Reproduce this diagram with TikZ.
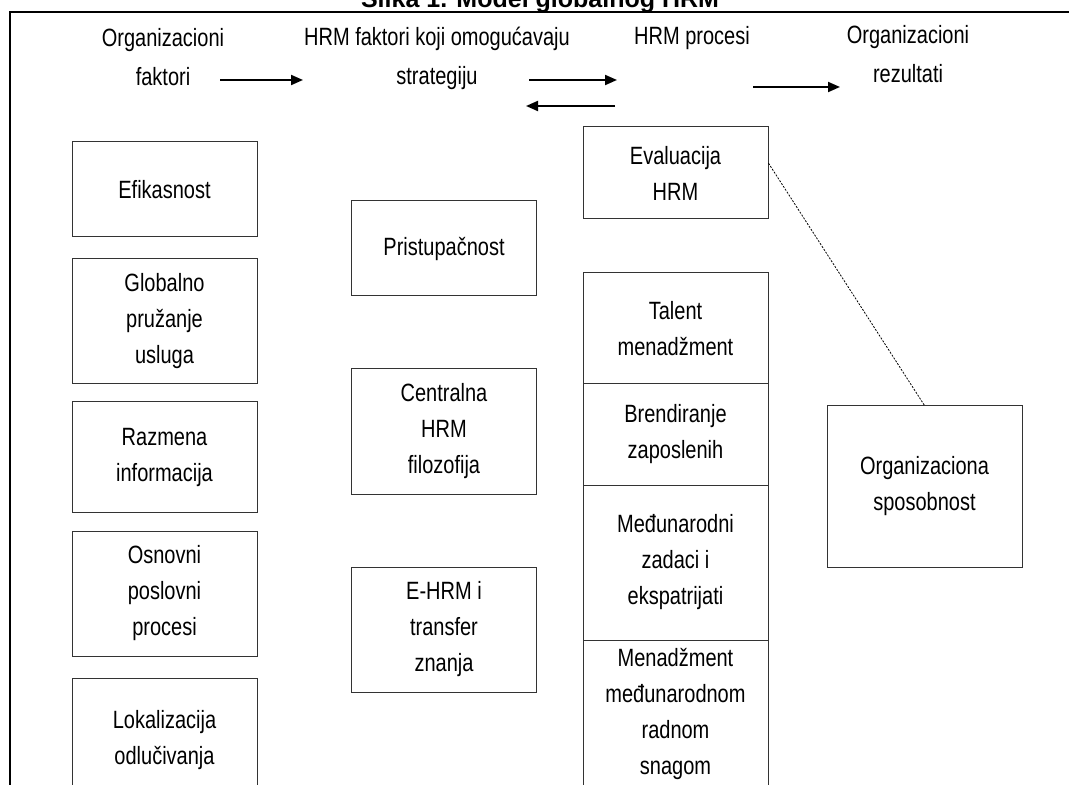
\documentclass[tikz,border=0pt]{standalone}
\usepackage{fontspec}
\setmainfont{Liberation Sans}[FakeStretch=0.8]
\newfontfamily\titlefont{Liberation Sans}
\usetikzlibrary{arrows.meta}

\begin{document}
\begin{tikzpicture}[x=0.5pt,y=-0.5pt,>={Triangle[length=6pt,width=5pt]},
 kutija/.style={draw=black!80,line width=.5pt,align=center,inner sep=0pt,
  minimum width=92.5pt,font=\fontsize{12.5}{18}\selectfont},
 zaglavlje/.style={align=center,anchor=base,font=\fontsize{12.5}{19.5}\selectfont},
 strelica/.style={->,line width=1pt}]
 \useasboundingbox (0,0) rectangle (1069,785);
 % naslov i okvir
 \node[anchor=base,font={\titlefont\bfseries\fontsize{12.5}{15}\selectfont}] (slika) at (540,8) {Slika 1. Model globalnog HRM};
 \draw[line width=1pt] (10,800)--(10,12)--(1080,12);
 % zaglavlja
 \node[zaglavlje] (orgfak) at (163,86) {Organizacioni\\faktori};
 \node[zaglavlje] (hrmfak) at (437,85) {HRM faktori koji omogućavaju\\strategiju};
 \node[zaglavlje] (hrmpro) at (692,45) {HRM procesi};
 \node[zaglavlje] (orgrez) at (908,83) {Organizacioni\\rezultati};
 \coordinate (s1a) at (220,80); \coordinate (s1b) at (303,80);
 \coordinate (s2a) at (529,80); \coordinate (s2b) at (617,80);
 \coordinate (s3a) at (615,106); \coordinate (s3b) at (526,106);
 \coordinate (s4a) at (753,87); \coordinate (s4b) at (840,87);
 \draw[strelica] (s1a)--(s1b);
 \draw[strelica] (s2a)--(s2b);
 \draw[strelica] (s3a)--(s3b);
 \draw[strelica] (s4a)--(s4b);
 % organizacioni faktori
 \node[kutija,minimum height=47.5pt] (efik) at (164.5,189.5) {Efikasnost};
 \node[kutija,minimum height=62.5pt] (glob) at (164.5,321.5) {Globalno\\pružanje\\usluga};
 \node[kutija,minimum height=55pt] (razm) at (164.5,457) {Razmena\\informacija};
 \node[kutija,minimum height=62.5pt] (osn) at (164.5,593.5) {Osnovni\\poslovni\\procesi};
 \node[kutija,minimum height=62pt] (lok) at (164.5,740) {Lokalizacija\\odlučivanja};
 % HRM faktori
 \node[kutija,minimum height=47.5pt] (prist) at (444,248.5) {Pristupačnost};
 \node[kutija,minimum height=62.5pt] (centr) at (444,431.5) {Centralna\\HRM\\filozofija};
 \node[kutija,minimum height=62.5pt] (ehrm) at (444,629.5) {E-HRM i\\transfer\\znanja};
 % HRM procesi
 \node[kutija,minimum height=46pt] (eval) at (675.5,173) {Evaluacija\\HRM};
 \node[kutija,minimum height=55.5pt] (tal) at (675.5,328.5) {Talent\\menadžment};
 \node[kutija,minimum height=50.5pt] (brend) at (675.5,434.5) {Brendiranje\\zaposlenih};
 \node[kutija,minimum height=77.5pt] (medj) at (675.5,562.5) {Međunarodni\\zadaci i\\ekspatrijati};
 \node[kutija,minimum height=74pt] (menad) at (675.5,714) {Menadžment\\međunarodnom\\radnom\\snagom};
 % rezultati
 \node[kutija,minimum width=97.5pt,minimum height=80.5pt] (orgsp) at (924.5,486.5) {Organizaciona\\sposobnost};
 \draw[line width=.4pt,dash pattern=on 1pt off .7pt] (eval.6)--(orgsp.north);
\end{tikzpicture}
\end{document}
